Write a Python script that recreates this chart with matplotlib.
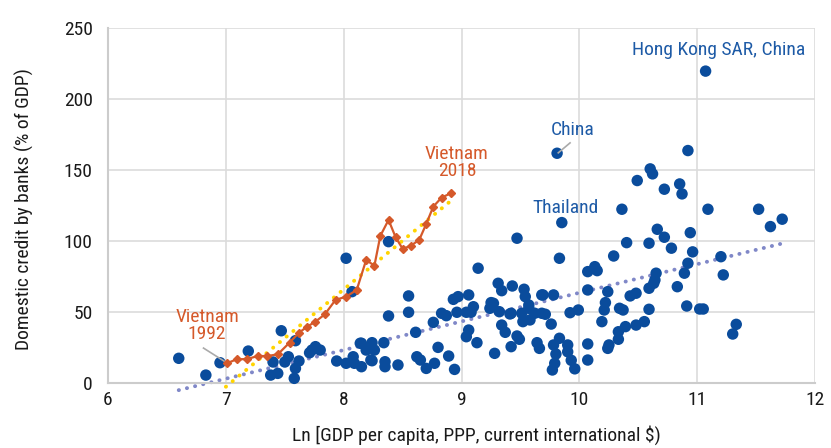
import matplotlib
matplotlib.use("Agg")
import matplotlib.pyplot as plt

plt.rcParams.update({
    "font.family": ["Roboto Condensed", "Archivo Narrow", "DejaVu Sans"],
    "font.size": 13,
})

BLUE = "#0a4c9c"
LABEL_BLUE = "#1d5aa6"
ORANGE = "#d5592a"
YELLOW = "#ffd400"
TREND = "#8088c8"
GRID = "#dcdcdc"

# -- Data ---------------------------------------------------------------------

# cross-country sample: ln GDP per capita vs domestic credit by banks
country_x = [
    6.60, 6.83, 6.95, 7.19, 7.40, 7.38, 7.44, 7.47, 7.50, 7.53, 7.59, 7.59, 7.58,
    7.62, 7.73, 7.76, 7.80, 7.71, 7.94, 8.02, 8.07, 8.02, 8.08, 8.09, 8.15, 8.15,
    8.19, 8.24, 8.26, 8.24, 8.34, 8.35, 8.35, 8.38, 8.38, 8.46, 8.55, 8.55, 8.61,
    8.62, 8.65, 8.70, 8.76, 8.77, 8.80, 8.83, 8.87, 8.89, 8.94, 8.93, 8.97, 8.96,
    9.04, 9.06, 9.04, 9.06, 9.10, 9.08, 9.13, 9.14, 9.28, 9.25, 9.24, 9.31, 9.34,
    9.32, 9.34, 9.37, 9.42, 9.42, 9.43, 9.47, 9.47, 9.49, 9.53, 9.54, 9.51, 9.52,
    9.57, 9.58, 9.62, 9.64, 9.66, 9.69, 9.68, 9.71, 9.76, 9.78, 9.78, 9.80, 9.79,
    9.77, 9.83, 9.83, 9.85, 9.81, 9.90, 9.90, 9.93, 9.96, 9.92, 9.99, 10.07, 10.07,
    10.07, 10.07, 10.13, 10.15, 10.19, 10.21, 10.22, 10.24, 10.24, 10.25, 10.29,
    10.33, 10.33, 10.34, 10.37, 10.36, 10.39, 10.40, 10.43, 10.48, 10.48, 10.49,
    10.55, 10.59, 10.59, 10.59, 10.60, 10.62, 10.64, 10.65, 10.63, 10.66, 10.72,
    10.72, 10.78, 10.83, 10.85, 10.87, 10.89, 10.92, 10.91, 10.92, 10.94, 10.96,
    11.02, 11.05, 11.09, 11.20, 11.22, 11.30, 11.33, 11.52, 11.62, 11.72, 11.07,
    9.27, 9.41, 9.57, 9.68, 8.14, 8.23,
]
country_y = [
    17.4, 5.6, 14.3, 22.5, 14.8, 5.6, 6.8, 36.8, 14.8, 18.5, 29.8, 10.3, 3.3,
    15.5, 23.2, 25.6, 23.2, 21.3, 15.5, 87.8, 64.3, 13.9, 18.5, 13.9, 11.5, 28.0,
    23.2, 28.4, 23.2, 15.7, 28.4, 15.0, 11.5, 99.5, 47.2, 12.7, 61.3, 49.8, 35.7,
    18.5, 16.2, 10.3, 42.7, 13.9, 25.1, 49.1, 47.4, 19.0, 9.6, 58.9, 60.8, 49.8,
    49.8, 62.0, 32.6, 37.3, 53.7, 49.8, 28.4, 80.8, 20.9, 56.6, 52.6, 70.2, 65.0,
    50.2, 40.8, 35.7, 25.6, 49.1, 68.3, 101.9, 33.1, 30.8, 66.0, 60.8, 49.1, 43.2,
    54.9, 44.4, 49.1, 28.4, 24.4, 62.0, 49.1, 48.4, 41.5, 62.0, 26.8, 20.4, 13.9,
    9.2, 31.5, 87.8, 112.9, 161.7, 26.8, 22.0, 16.0, 10.0, 49.5, 51.4, 27.5, 16.2,
    65.5, 78.4, 81.9, 79.1, 43.2, 51.4, 56.6, 64.3, 24.4, 26.8, 89.4,
    36.1, 30.8, 52.6, 51.4, 122.3, 39.7, 98.8, 61.3, 63.2, 40.8, 142.5,
    43.2, 51.9, 66.7, 98.4, 150.7, 147.2, 72.5, 77.3, 70.2, 108.2, 102.6,
    136.4, 94.9, 67.8, 140.1, 133.1, 77.3, 84.3, 54.2, 163.6, 105.8, 92.3,
    52.1, 52.1, 122.3, 88.9, 76.1, 34.5, 41.3, 122.3, 110.1, 115.3, 219.5,
    56.1, 48.6, 52.6, 62.0, 28.0, 16.2,
]

# Vietnam, 1992-2018
vietnam_x = [
    7.01, 7.09, 7.18, 7.27, 7.35, 7.44, 7.54, 7.62, 7.69, 7.76, 7.84, 7.93, 8.02,
    8.11, 8.19, 8.26, 8.31, 8.38, 8.44, 8.50, 8.57, 8.64, 8.70, 8.76, 8.83, 8.91,
]
vietnam_y = [
    13.9, 16.7, 16.9, 19.0, 19.0, 20.2, 28.4, 35.4, 39.7, 43.2, 48.4, 58.5, 60.8,
    65.5, 86.6, 82.6, 103.5, 114.8, 102.6, 94.4, 96.7, 100.7, 112.0, 124.2, 130.5,
    133.6,
]

# trend lines (end points)
trend_all_x = [6.60, 11.71]
trend_all_y = [-5.0, 98.0]
trend_vn_x = [7.00, 8.92]
trend_vn_y = [-2.6, 129.0]

# -- Figure -------------------------------------------------------------------

fig = plt.figure(figsize=(8.31, 4.48), dpi=100)
ax = fig.add_axes([0.130, 0.145, 0.851, 0.793])

ax.plot(trend_all_x, trend_all_y, color=TREND, lw=2.8,
        linestyle=(0, (0.05, 2.1)), dash_capstyle="round", zorder=2,
        clip_on=False)
ax.scatter(country_x, country_y, s=68, color=BLUE, edgecolors="none",
           zorder=3, clip_on=False)
ax.plot(trend_vn_x, trend_vn_y, color=YELLOW, lw=2.8,
        linestyle=(0, (0.05, 2.2)), dash_capstyle="round", zorder=4,
        clip_on=False)
ax.plot(vietnam_x, vietnam_y, color=ORANGE, lw=1.6, marker="D", ms=4.0,
        zorder=5)

ax.set_xlim(6, 12)
ax.set_ylim(0, 250)
ax.set_xticks(range(6, 13))
ax.set_yticks(range(0, 251, 50))
ax.grid(color=GRID, lw=1.2)
ax.set_axisbelow(True)
for side in ["top", "right"]:
    ax.spines[side].set_visible(False)
for side in ["left", "bottom"]:
    ax.spines[side].set_color("#cccccc")
    ax.spines[side].set_linewidth(1.5)
ax.tick_params(length=0, labelsize=14, colors="#1a1a1a", pad=6)
ax.tick_params(axis="y", pad=11)

ax.set_xlabel("Ln [GDP per capita, PPP, current international $)",
              fontsize=14, color="#1a1a1a")
ax.xaxis.set_label_coords(0.521, -0.12)
ax.set_ylabel("Domestic credit by banks (% of GDP)", fontsize=14,
              color="#1a1a1a")
ax.yaxis.set_label_coords(-0.104, 0.49)

# annotations
ax.text(6.84, 28, "Vietnam\n1992", color=ORANGE, fontsize=14,
        ha="center", va="bottom", linespacing=0.95)
ax.plot([6.81, 7.01], [24.6, 14.1], color="#aaaaaa", lw=1.2, zorder=4)
ax.text(8.96, 143, "Vietnam\n2018", color=ORANGE, fontsize=14,
        ha="center", va="bottom", linespacing=0.95)
ax.text(9.94, 172, "China", color=LABEL_BLUE, fontsize=14,
        ha="center", va="bottom")
ax.plot([9.92, 9.82], [169, 162], color="#aaaaaa", lw=1.2, zorder=4)
ax.text(9.88, 117, "Thailand", color=LABEL_BLUE, fontsize=14,
        ha="center", va="bottom")
ax.text(11.18, 228, "Hong Kong SAR, China", color=LABEL_BLUE, fontsize=14,
        ha="center", va="bottom")

fig.savefig("out.png", dpi=100)
